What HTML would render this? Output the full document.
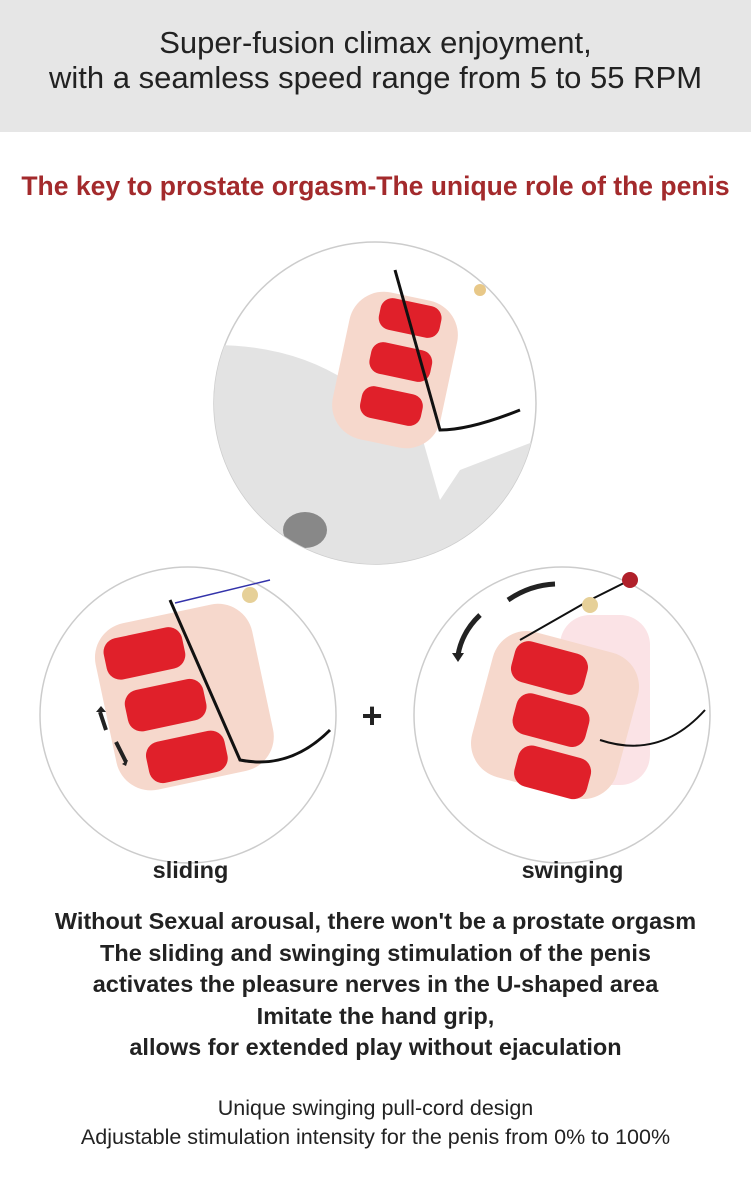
<!DOCTYPE html>
<html><head><meta charset="utf-8"><style>
body{margin:0;width:751px;height:1188px;background:#fff;font-family:"Liberation Sans","DejaVu Sans",sans-serif;position:relative;overflow:hidden}
.top{position:absolute;left:0;top:0;width:751px;height:132px;background:#e6e6e6}
.t{position:absolute;left:0;width:751px;text-align:center;white-space:nowrap}
</style></head><body>
<div class="top"></div>
<div class="t" style="top:25px;font-size:31px;color:#222">Super-fusion climax enjoyment,</div>
<div class="t" style="top:60px;font-size:31px;color:#222">with a seamless speed range from 5 to 55 RPM</div>
<div class="t" style="top:171px;font-size:26.5px;font-weight:bold;color:#a32a2c">The key to prostate orgasm-The unique role of the penis</div>
<svg width="751" height="1188" style="position:absolute;left:0;top:0">
<defs><clipPath id="c1"><circle cx="375" cy="403" r="161"/></clipPath></defs>
<circle cx="375" cy="403" r="161" fill="#fff" stroke="#ccc" stroke-width="1.5"/>
<g clip-path="url(#c1)">
<path d="M214 345 Q300 345 360 390 L420 430 L440 500 L460 470 L538 440 L538 565 L214 565Z" fill="#e3e3e3"/>
<ellipse cx="305" cy="530" rx="22" ry="18" fill="#888"/>
<rect x="340" y="295" width="110" height="150" rx="35" fill="#f6d8cc" transform="rotate(12 395 370)"/>
<g fill="#e0202a" transform="rotate(12 395 370)">
<rect x="368" y="300" width="62" height="32" rx="12"/>
<rect x="368" y="345" width="62" height="32" rx="12"/>
<rect x="368" y="390" width="62" height="32" rx="12"/>
</g>
<path d="M395 270 L440 430 Q470 430 520 410" stroke="#111" stroke-width="3" fill="none"/>
<circle cx="480" cy="290" r="6" fill="#e8c888"/>
</g>
<circle cx="188" cy="715" r="148" fill="#fff" stroke="#ccc" stroke-width="1.5"/>
<rect x="105" y="612" width="160" height="170" rx="35" fill="#f6d8cc" transform="rotate(-12 185 700)"/>
<g fill="#e0202a" transform="rotate(-12 185 700)">
<rect x="115" y="625" width="80" height="42" rx="14"/>
<rect x="125" y="680" width="80" height="42" rx="14"/>
<rect x="135" y="735" width="80" height="42" rx="14"/>
</g>
<path d="M170 600 L240 760 Q290 770 330 730" stroke="#111" stroke-width="3" fill="none"/>
<line x1="175" y1="603" x2="270" y2="580" stroke="#33a" stroke-width="1.5"/>
<circle cx="250" cy="595" r="8" fill="#e6d098"/>
<path d="M100 712 L106 730 M116 742 L126 762" stroke="#222" stroke-width="4"/>
<path d="M96 712 L101 706 L106 712Z M122 764 L128 760 L126 766Z" fill="#222"/>
<text x="372" y="728" font-size="36" font-weight="bold" text-anchor="middle" fill="#222">+</text>
<circle cx="562" cy="715" r="148" fill="#fff" stroke="#ccc" stroke-width="1.5"/>
<rect x="560" y="615" width="90" height="170" rx="30" fill="#fbe3e6"/>
<rect x="480" y="640" width="150" height="150" rx="35" fill="#f6d8cc" transform="rotate(15 555 715)"/>
<g fill="#e0202a" transform="rotate(15 555 715)">
<rect x="500" y="650" width="75" height="42" rx="14"/>
<rect x="515" y="700" width="75" height="42" rx="14"/>
<rect x="530" y="750" width="75" height="42" rx="14"/>
</g>
<path d="M520 640 L590 600 L630 580 M600 740 Q660 760 705 710" stroke="#111" stroke-width="2" fill="none"/>
<circle cx="590" cy="605" r="8" fill="#e6d098"/>
<circle cx="630" cy="580" r="8" fill="#b0202a"/>
<path d="M508 600 Q530 585 555 584" stroke="#222" stroke-width="5" fill="none"/>
<path d="M480 615 Q462 632 458 655" stroke="#222" stroke-width="5" fill="none"/>
<path d="M452 653 L464 653 L458 662Z" fill="#222"/>
</svg>
<div class="t" style="left:-185px;top:857px;font-size:23.5px;font-weight:bold;color:#222">sliding</div>
<div class="t" style="left:197px;top:857px;font-size:23.5px;font-weight:bold;color:#222">swinging</div>
<div class="t" style="top:906px;font-size:23.5px;font-weight:bold;color:#222;line-height:31.5px">Without Sexual arousal, there won't be a prostate orgasm<br>The sliding and swinging stimulation of the penis<br>activates the pleasure nerves in the U-shaped area<br>Imitate the hand grip,<br>allows for extended play without ejaculation</div>
<div class="t" style="top:1094px;font-size:21.5px;color:#222;line-height:29px">Unique swinging pull-cord design<br>Adjustable stimulation intensity for the penis from 0% to 100%</div>
</body></html>
